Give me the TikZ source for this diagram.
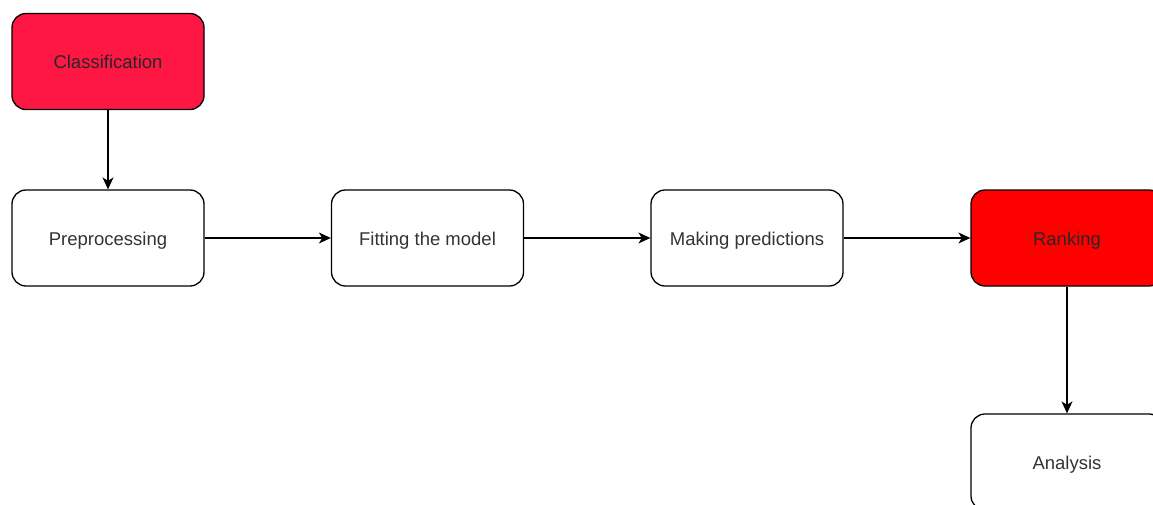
\documentclass[tikz,border=0pt]{standalone}
\usepackage{fontspec}
\setmainfont{Liberation Sans}
\usetikzlibrary{arrows.meta}
\definecolor{crimsonfill}{HTML}{FF1744}
\definecolor{redfill}{HTML}{FF0000}
\definecolor{textgray}{HTML}{333333}
\tikzset{
  x=1pt, y=-1pt,
  stepbox/.style={draw=black, line width=1.3pt, rounded corners=14pt, fill=white,
    minimum width=192pt, minimum height=96pt, inner sep=0pt,
    text height=14pt, text depth=0pt,
    font=\fontsize{18.5}{22}\selectfont, text=textgray, anchor=center},
  flow/.style={draw=black, line width=1.3pt, -{Stealth[length=12pt, width=11pt, inset=3.5pt]}}
}
\begin{document}
\begin{tikzpicture}
\useasboundingbox (0,0) rectangle (1153,504);
\clip (0,0) rectangle (1153,504);
\node[stepbox, fill=crimsonfill, text=black!85] (cls) at (108,61.5) {Classification};
\node[stepbox] (pre) at (108,238) {Preprocessing};
\node[stepbox] (fit) at (427.5,238) {Fitting the model};
\node[stepbox] (pred) at (747,238) {Making predictions};
\node[stepbox, fill=redfill, text=black!85] (rank) at (1067,238) {Ranking};
\node[stepbox] (ana) at (1067,462) {Analysis};
\draw[flow] (cls) -- (pre);
\draw[flow] (pre) -- (fit);
\draw[flow] (fit) -- (pred);
\draw[flow] (pred) -- (rank);
\draw[flow] (rank) -- (ana);
\end{tikzpicture}
\end{document}
